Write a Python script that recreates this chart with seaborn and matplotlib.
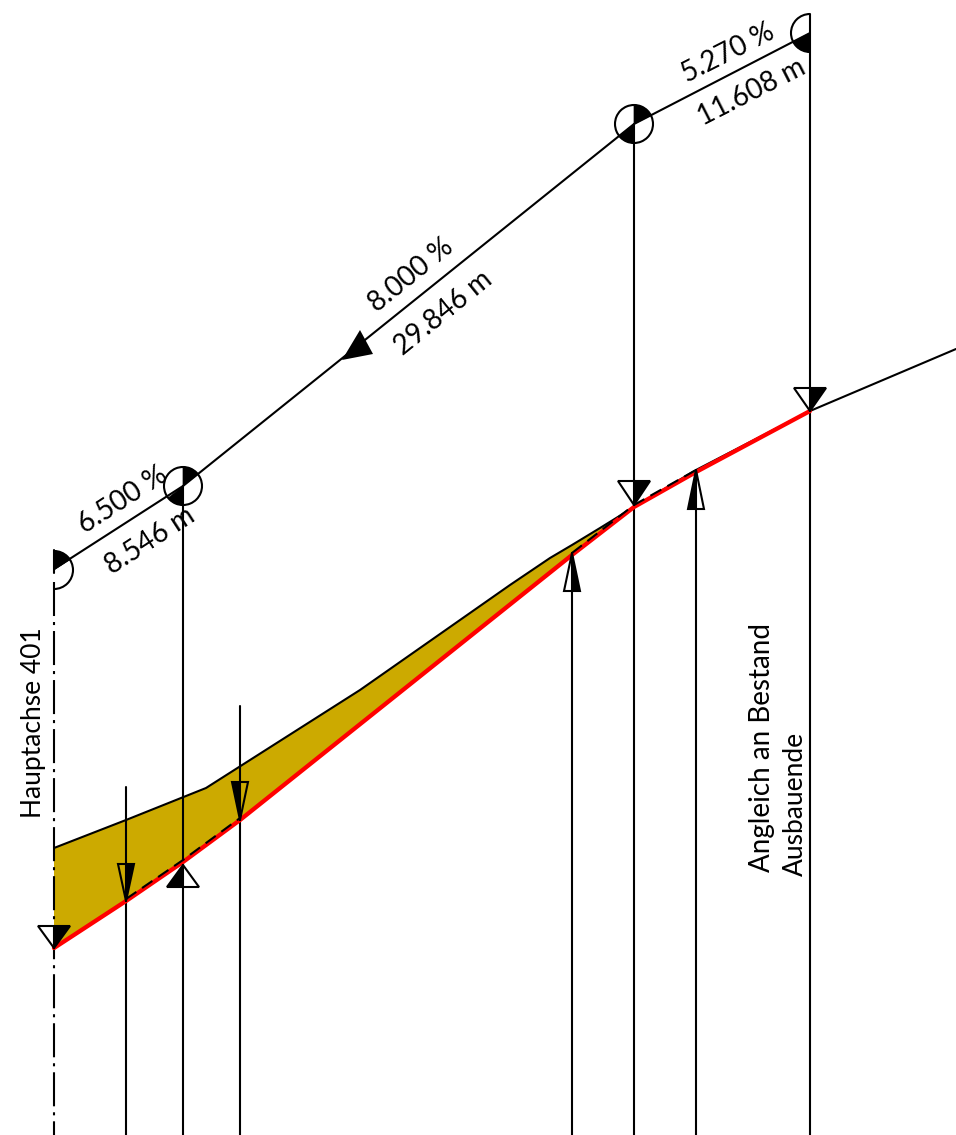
import matplotlib
matplotlib.use("Agg")
import matplotlib.pyplot as plt
from matplotlib.patches import Wedge, Arc
import pandas as pd
import seaborn as sns

sns.set_theme(style="white")
plt.rcParams["font.family"] = ["Lato", "Liberation Sans", "DejaVu Sans"]
plt.rcParams["lines.scale_dashes"] = False

# ---- drawing data (drawing units = pixels) ----
grade_x = [54, 183, 634, 810]
grade_y = [569, 486, 124, 33]
terrain_x = [54, 126, 206, 360, 510, 550, 572, 600, 634, 696, 810, 956]
terrain_y = [848, 820, 788, 690, 585, 558, 545, 528, 507, 470, 411, 349]
design_x = [54, 126, 183, 240, 572, 634, 696, 810]
design_y = [948, 901, 862, 820, 555, 507, 472, 411]
dash_a_x = [126, 183, 240]
dash_a_y = [899, 860, 818]
dash_b_x = [572, 634, 696]
dash_b_y = [553, 505, 470]
fill_x = terrain_x[:9] + design_x[5::-1]
fill_y = terrain_y[:9] + design_y[5::-1]

vert_x = [126, 183, 240, 572, 634, 696, 810]
vert_top = [787, 486, 706, 553, 124, 470, 14]
axis_x = 54
axis_solid = [550, 573]
axis_dash = [582, 1135]

# triangle markers: station, apex, base, half width, black side (-1 left, 1 right)
tri_x = [54, 126, 183, 240, 572, 634, 696, 810]
tri_apex = [948, 901, 865, 820, 553, 505, 470, 411]
tri_base = [926, 864, 887, 782, 591, 481, 509, 388]
tri_half = [16, 8, 16, 8, 8, 16, 8, 16]
tri_black = [1, 1, -1, -1, 1, 1, -1, 1]

arrow_x = [342, 373, 360]
arrow_y = [360, 354, 330]

# grade-break symbols: centre, radius, black wedges and outline in screen degrees
sym_x = [54, 183, 634, 810]
sym_y = [570, 486, 124, 33]
sym_r = [19, 19, 19, 19]
sym_arc = [(-90, 90), (0, 360), (0, 360), (90, 270)]
sym_black = [[(33, 90)], [(39, 90), (219, 270)], [(27, 90), (219, 270)], [(207, 270)]]

labels = ["6.500 %", "8.546 m", "8.000 %", "29.846 m", "5.270 %", "11.608 m",
          "Hauptachse 401", "Angleich an Bestand", "Ausbauende"]
label_x = [123, 150, 411, 443, 728, 752, 34, 762, 795]
label_y = [500, 541, 275, 313, 53, 92, 723, 748, 804]
label_rot = [33, 33, 39, 39, 27, 27, 90, 90, 90]
label_size = [20, 20, 20, 20, 20, 20, 19, 20, 19]

BLACK = "#000000"
RED = "#FF0000"
GOLD = "#CCAA00"
LW = 1.5

fig = plt.figure(figsize=(9.56, 11.35), dpi=100, facecolor="white")
ax = fig.add_axes([0, 0, 1, 1])


def line(xs, ys, color=BLACK, lw=LW, ls="-", z=3):
    df = pd.DataFrame({"x": xs, "y": ys})
    sns.lineplot(data=df, x="x", y="y", sort=False, estimator=None, color=color,
                 linewidth=lw, linestyle=ls, ax=ax, zorder=z, legend=False)


ax.fill(fill_x, fill_y, color=GOLD, lw=0, zorder=1)
line(terrain_x, terrain_y, z=2)
line(grade_x, grade_y)

for x, top in zip(vert_x, vert_top):
    line([x, x], [top, 1135])
line([axis_x, axis_x], axis_solid)
line([axis_x, axis_x], axis_dash, ls=(0, (24.5, 4.3, 2.2, 4.3)))

line(design_x, design_y, color=RED, lw=3.1, z=4)
line(dash_a_x, dash_a_y, ls=(0, (9, 5)), z=5)
line(dash_b_x, dash_b_y, ls=(0, (9, 5)), z=5)

for x, a, b, h, side in zip(tri_x, tri_apex, tri_base, tri_half, tri_black):
    ax.fill([x, x + side * h, x], [a, b, b], color=BLACK, lw=0, zorder=6)
    ax.plot([x, x - h, x + h, x], [a, b, b, a], color=BLACK, lw=LW, zorder=6,
            solid_joinstyle="miter")

ax.fill(arrow_x, arrow_y, color=BLACK, lw=0, zorder=6)

for cx, cy, r, arc, blacks in zip(sym_x, sym_y, sym_r, sym_arc, sym_black):
    # y axis points down, so a screen angle a is the data angle -a
    ax.add_patch(Arc((cx, cy), 2 * r, 2 * r, theta1=-arc[1], theta2=-arc[0],
                     color=BLACK, lw=LW, zorder=6))
    for a1, a2 in blacks:
        ax.add_patch(Wedge((cx, cy), r, -a2, -a1, fc=BLACK, ec=BLACK, lw=0.5, zorder=6))

for t, x, y, rot, size in zip(labels, label_x, label_y, label_rot, label_size):
    ax.text(x, y, t, rotation=rot, rotation_mode="anchor", ha="center", va="center",
            fontsize=size, fontweight="normal", color=BLACK, zorder=7)

ax.set_xlim(0, 956)
ax.set_ylim(1135, 0)
ax.axis("off")
fig.savefig("out.png", dpi=100, facecolor="white")
